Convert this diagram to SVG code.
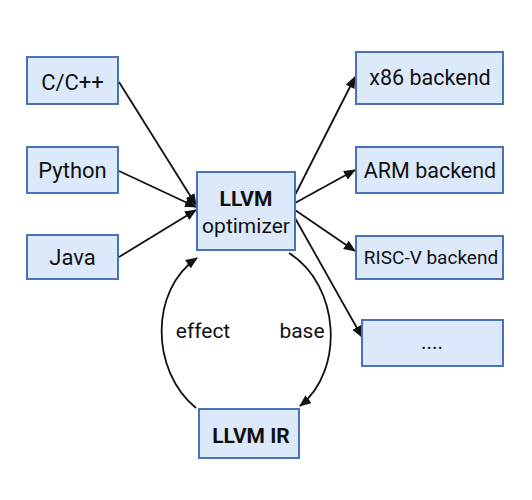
<svg xmlns="http://www.w3.org/2000/svg" width="532" height="500" viewBox="0 0 532 500">
<style>
.box{fill:#dce9fb;stroke:#4a72b8;stroke-width:2}
.t{font-family:Roboto,"Liberation Sans",sans-serif;font-size:21px;fill:#111;text-anchor:middle}
.b{font-weight:bold}
.k{font-size:21.5px}
.l{font-size:22px}
.s{font-size:19px}
.c{fill:none;stroke:#111;stroke-width:1.8}
</style>
<defs>
<marker id="ah" markerWidth="12" markerHeight="10" refX="11" refY="5" orient="auto" markerUnits="userSpaceOnUse">
<path d="M0,0 L12,5 L0,10 z" fill="#111"/>
</marker>
</defs>
<rect width="532" height="500" fill="#fff"/>
<g id="connectors">
<path class="c" d="M119,82 L196,205" marker-end="url(#ah)"/>
<path class="c" d="M119,171 L196,207" marker-end="url(#ah)"/>
<path class="c" d="M119,257 L196,210" marker-end="url(#ah)"/>
<path class="c" d="M295,195 L355,77" marker-end="url(#ah)"/>
<path class="c" d="M295,203 L355,170" marker-end="url(#ah)"/>
<path class="c" d="M295,210 L355,251" marker-end="url(#ah)"/>
<path class="c" d="M295,218 L362,337" marker-end="url(#ah)"/>
<path class="c" d="M196,408 C150,370 150,290 197,258" marker-end="url(#ah)"/>
<path class="c" d="M289,253 C340,285 345,370 300,406" marker-end="url(#ah)"/>
<text class="t" x="203" y="338">effect</text>
<text class="t" x="302" y="338">base</text>
</g>
<g id="cpp"><rect class="box" x="27" y="57" width="91" height="47"/><text class="t l" x="72.5" y="90">C/C++</text></g>
<g id="python"><rect class="box" x="27" y="147" width="91" height="46"/><text class="t l" x="72.5" y="178">Python</text></g>
<g id="java"><rect class="box" x="27" y="235" width="91" height="44"/><text class="t l" x="72.5" y="265">Java</text></g>
<g id="optimizer"><rect class="box" x="197" y="172" width="98" height="78"/><text class="t b" x="246" y="206">LLVM</text><text class="t" x="246" y="233">optimizer</text></g>
<g id="x86"><rect class="box" x="356" y="52" width="147" height="52"/><text class="t k" x="430" y="85">x86 backend</text></g>
<g id="arm"><rect class="box" x="356" y="147" width="147" height="46"/><text class="t k" x="430" y="178">ARM backend</text></g>
<g id="riscv"><rect class="box" x="356" y="236" width="147" height="43"/><text class="t s" x="431" y="264">RISC-V backend</text></g>
<g id="more"><rect class="box" x="362" y="320" width="141" height="46"/><text class="t" x="432" y="349">....</text></g>
<g id="ir"><rect class="box" x="199" y="409" width="100" height="49"/><text class="t b" x="251" y="443">LLVM IR</text></g>
</svg>
